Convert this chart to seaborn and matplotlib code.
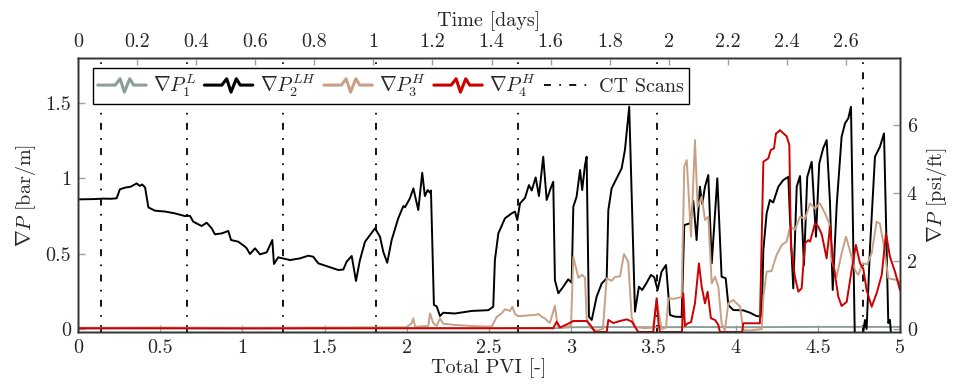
import numpy as np
import pandas as pd
import matplotlib
matplotlib.use("Agg")
import matplotlib.pyplot as plt
import seaborn as sns
from matplotlib.lines import Line2D
from matplotlib.legend_handler import HandlerLine2D
from matplotlib.ticker import FuncFormatter, MultipleLocator

# ---------------- data (Total PVI, gradient in bar/m) ----------------
p1_pvi = [0.0, 0.5, 1.0, 1.5, 2.0, 2.5, 2.9, 3.0, 3.3, 3.5, 3.8, 4.0, 4.3, 4.5, 4.8, 5.0]
p1_val = [0.003, 0.004, 0.004, 0.004, 0.005, 0.005, 0.005, 0.012, 0.013, 0.012, 0.013, 0.012, 0.013, 0.014, 0.014, 0.014]

p2_pvi = [0.0, 0.1, 0.15, 0.2, 0.235, 0.255, 0.29, 0.32, 0.357, 0.377, 0.39, 0.408, 0.428, 0.468,
          0.53, 0.59, 0.651, 0.681, 0.701, 0.752, 0.783, 0.813, 0.833, 0.874, 0.914, 0.931, 0.975,
          1.016, 1.026, 1.046, 1.077, 1.107, 1.148, 1.182, 1.192, 1.218, 1.29, 1.35, 1.401, 1.431,
          1.462, 1.533, 1.583, 1.614, 1.634, 1.665, 1.691, 1.715, 1.746, 1.776, 1.807, 1.817, 1.837,
          1.857, 1.881, 1.908, 1.948, 1.979, 1.989, 2.019, 2.04, 2.07, 2.094, 2.11, 2.127, 2.141,
          2.147, 2.165, 2.182, 2.202, 2.222, 2.293, 2.395, 2.496, 2.526, 2.536, 2.557, 2.597, 2.638,
          2.658, 2.672, 2.689, 2.719, 2.743, 2.76, 2.784, 2.804, 2.83, 2.851, 2.875, 2.891, 2.901,
          2.922, 2.952, 2.982, 3.003, 3.013, 3.033, 3.054, 3.067, 3.084, 3.094, 3.108, 3.125, 3.155,
          3.186, 3.216, 3.226, 3.246, 3.287, 3.307, 3.327, 3.353, 3.388, 3.412, 3.432, 3.459, 3.485,
          3.505, 3.526, 3.55, 3.577, 3.601, 3.631, 3.672, 3.688, 3.723, 3.743, 3.763, 3.783, 3.797,
          3.814, 3.834, 3.855, 3.889, 3.915, 3.94, 3.956, 3.986, 4.047, 4.088, 4.128, 4.159, 4.169,
          4.189, 4.209, 4.229, 4.26, 4.29, 4.321, 4.331, 4.351, 4.372, 4.392, 4.416, 4.436, 4.463,
          4.489, 4.509, 4.533, 4.554, 4.574, 4.591, 4.615, 4.645, 4.666, 4.686, 4.702, 4.726, 4.767,
          4.787, 4.797, 4.818, 4.848, 4.878, 4.903, 4.929, 4.939, 4.95]
p2_val = [0.861, 0.863, 0.866, 0.865, 0.868, 0.928, 0.94, 0.945, 0.967, 0.95, 0.96, 0.941, 0.808, 0.786,
          0.78, 0.768, 0.75, 0.752, 0.713, 0.684, 0.706, 0.669, 0.629, 0.635, 0.651, 0.591, 0.58,
          0.547, 0.536, 0.498, 0.536, 0.496, 0.509, 0.591, 0.432, 0.476, 0.458, 0.469, 0.487, 0.48,
          0.436, 0.41, 0.392, 0.395, 0.447, 0.485, 0.319, 0.458, 0.58, 0.624, 0.669, 0.65, 0.613,
          0.513, 0.44, 0.591, 0.735, 0.817, 0.808, 0.868, 0.934, 0.79, 1.038, 0.883, 0.923, 0.905,
          0.92, 0.16, 0.15, 0.086, 0.108, 0.103, 0.12, 0.125, 0.148, 0.458, 0.635, 0.735, 0.768,
          0.78, 0.724, 0.835, 0.87, 0.956, 0.92, 1.007, 0.883, 1.144, 0.857, 0.934, 0.978, 0.325,
          0.237, 0.281, 0.33, 0.307, 0.812, 0.879, 1.056, 0.923, 1.089, 1.144, 0.082, 0.06, 0.215,
          0.303, 0.337, 0.79, 0.934, 1.023, 1.067, 1.189, 1.476, 0.115, 0.281, 0.259, 0.307, 0.359,
          0.345, 0.259, 0.381, 0.425, 0.093, 0.082, 0.08, 0.69, 0.702, 0.85, 0.591, 0.945, 0.83,
          0.945, 1.023, 0.436, 1.001, 0.347, 0.337, 0.159, 0.126, 0.124, 0.108, 0.086, 0.082, 0.525,
          0.768, 0.857, 0.84, 0.945, 0.989, 1.011, 0.73, 0.27, 0.945, 1.016, 0.425, 1.01, 1.111,
          0.613, 1.1, 1.2, 1.255, 0.85, 0.259, 0.82, 1.277, 1.366, 1.4, 1.476, -0.1, -0.1,
          0.06, 0.0, 0.547, 1.144, 1.21, 1.299, 0.04, 0.06, -0.1]

p3_pvi = [0.0, 0.5, 1.0, 1.5, 2.0, 2.029, 2.04, 2.05, 2.131, 2.141, 2.161, 2.182, 2.202, 2.222, 2.293,
          2.395, 2.516, 2.547, 2.577, 2.597, 2.628, 2.642, 2.658, 2.678, 2.739, 2.79, 2.8, 2.82, 2.84,
          2.871, 2.901, 2.918, 2.952, 2.999, 3.013, 3.044, 3.066, 3.084, 3.094, 3.114, 3.157, 3.193,
          3.216, 3.246, 3.266, 3.297, 3.321, 3.347, 3.368, 3.388, 3.449, 3.498, 3.52, 3.55, 3.577,
          3.591, 3.621, 3.662, 3.672, 3.688, 3.703, 3.729, 3.753, 3.769, 3.794, 3.814, 3.834, 3.855,
          3.875, 3.895, 3.915, 3.935, 3.956, 3.986, 3.996, 4.027, 4.047, 4.088, 4.159, 4.169, 4.189,
          4.219, 4.249, 4.281, 4.311, 4.331, 4.361, 4.392, 4.422, 4.453, 4.483, 4.513, 4.544, 4.57,
          4.585, 4.615, 4.645, 4.672, 4.7, 4.726, 4.746, 4.773, 4.801, 4.828, 4.858, 4.878, 4.903,
          4.929, 4.959, 4.99, 5.0]
p3_val = [0.008, 0.01, 0.008, 0.01, 0.012, 0.038, 0.071, 0.015, 0.02, 0.104, 0.04, 0.02, 0.071, 0.035,
          0.027, 0.02, 0.015, 0.08, 0.104, 0.131, 0.12, 0.148, 0.1, 0.085, 0.09, 0.095, 0.1, 0.082,
          0.07, 0.04, 0.155, 0.015, 0.012, 0.02, 0.48, 0.34, 0.36, 0.34, 0.073, 0.01, -0.01, 0.0,
          0.337, 0.32, 0.345, 0.35, 0.498, 0.447, 0.082, 0.015, 0.005, 0.01, 0.193, 0.0, 0.01,
          0.204, 0.2, 0.21, 0.215, 1.078, 1.122, 0.613, 1.255, 0.812, 0.879, 0.724, 0.745, 0.303,
          0.347, 0.281, 0.038, -0.01, 0.171, 0.193, 0.181, 0.15, -0.007, -0.01, 0.0, 0.215, 0.381,
          0.385, 0.491, 0.558, 0.58, 0.679, 0.66, 0.746, 0.73, 0.835, 0.8, 0.835, 0.768, 0.702,
          0.458, 0.347, 0.503, 0.613, 0.503, 0.392, 0.36, 0.436, 0.43, 0.503, 0.713, 0.7, 0.547,
          0.337, 0.33, 0.325, 0.29]

p4_pvi = [0.0, 0.5, 1.0, 1.5, 2.0, 2.5, 2.891, 2.912, 2.932, 2.973, 3.013, 3.054, 3.094, 3.114, 3.145,
          3.216, 3.226, 3.256, 3.297, 3.338, 3.368, 3.388, 3.408, 3.499, 3.52, 3.531, 3.54, 3.674,
          3.682, 3.692, 3.709, 3.729, 3.753, 3.777, 3.794, 3.814, 3.83, 3.85, 3.875, 3.895, 3.905,
          4.04, 4.047, 4.148, 4.169, 4.199, 4.214, 4.234, 4.246, 4.26, 4.27, 4.29, 4.311, 4.327,
          4.337, 4.361, 4.382, 4.402, 4.422, 4.442, 4.453, 4.483, 4.503, 4.524, 4.554, 4.574, 4.594,
          4.625, 4.645, 4.676, 4.706, 4.732, 4.757, 4.777, 4.797, 4.828, 4.858, 4.889, 4.915, 4.939,
          4.97, 5.0]
p4_val = [0.005, 0.005, 0.004, 0.005, 0.005, 0.005, 0.006, 0.049, 0.01, 0.03, 0.053, 0.053, 0.053, 0.03,
          -0.02, -0.02, 0.06, 0.04, 0.053, 0.064, 0.05, 0.015, -0.02, -0.02, 0.204, 0.04, -0.02,
          -0.02, 0.237, 0.02, 0.038, 0.045, 0.171, 0.436, 0.281, 0.17, 0.248, 0.071, 0.06, 0.027,
          -0.02, -0.02, 0.038, 0.038, 1.111, 1.133, 1.189, 1.2, 1.299, 1.31, 1.321, 1.3, 1.28,
          1.222, 0.547, 0.347, 0.248, 0.27, 0.569, 0.59, 0.58, 0.702, 0.68, 0.63, 0.469, 0.679,
          0.436, 0.215, 0.153, 0.18, 0.392, 0.558, 0.436, 0.4, 0.259, 0.148, 0.237, 0.359, 0.635,
          0.48, 0.38, 0.259]

ct_scans = [0.14, 0.663, 1.247, 1.813, 2.676, 3.522, 4.775]

series_labels = [r'$\nabla P_1^L$', r'$\nabla P_2^{LH}$', r'$\nabla P_3^H$', r'$\nabla P_4^H$']
series_colors = ['#8c9e9a', '#000000', '#c8a085', '#cc0000']
bar_m_to_psi_ft = 4.4208
pvi_per_day = 1.797

# ---------------- style ----------------
FS = 14.5
sns.set_theme(style="ticks")
plt.rcParams.update({
    'font.family': 'serif',
    'font.serif': ['cmr10', 'DejaVu Serif'],
    'mathtext.fontset': 'cm',
    'axes.formatter.use_mathtext': True,
    'axes.unicode_minus': False,
    'font.size': FS,
    'lines.scale_dashes': False,
})

frames = []
for lab, xs, ys in zip(series_labels, [p1_pvi, p2_pvi, p3_pvi, p4_pvi], [p1_val, p2_val, p3_val, p4_val]):
    frames.append(pd.DataFrame({'PVI': xs, 'dP': ys, 'series': lab}))
df = pd.concat(frames, ignore_index=True)

fig = plt.figure(figsize=(9.57, 3.88), dpi=100)
ax = fig.add_axes([0.0815, 0.1443, 0.8589, 0.7062])

for lab, col in zip(series_labels, series_colors):
    sub = df[df['series'] == lab]
    sns.lineplot(data=sub, x='PVI', y='dP', ax=ax, color=col, lw=1.4, sort=False,
                 estimator=None, label=lab, legend=False)

for xv in ct_scans:
    ax.axvline(xv, color='black', lw=1.3, linestyle=(0, (5, 6, 1.2, 6)), zorder=1)

ax.set_xlim(0, 5)
ax.set_ylim(-0.02, 1.8)
ax.set_xlabel('Total PVI [-]', fontsize=FS, labelpad=1)
ax.set_ylabel(r'$\nabla P$ [bar/m]', fontsize=FS, labelpad=5)
ax.xaxis.set_major_locator(MultipleLocator(0.5))
ax.yaxis.set_major_locator(MultipleLocator(0.5))
fmt = FuncFormatter(lambda v, p: f'{v:g}')
ax.xaxis.set_major_formatter(fmt)
ax.yaxis.set_major_formatter(fmt)

ax2 = ax.twinx()
ax2.set_ylim(-0.02 * bar_m_to_psi_ft, 1.8 * bar_m_to_psi_ft)
ax2.yaxis.set_major_locator(MultipleLocator(2))
ax2.yaxis.set_major_formatter(fmt)
ax2.set_ylabel(r'$\nabla P$ [psi/ft]', fontsize=FS, labelpad=6)

ax3 = ax.twiny()
ax3.set_xlim(0, 5 / pvi_per_day)
ax3.xaxis.set_major_locator(MultipleLocator(0.2))
ax3.xaxis.set_major_formatter(fmt)
ax3.set_xlabel('Time [days]', fontsize=FS, labelpad=5)

for a in (ax, ax2, ax3):
    a.tick_params(direction='in', length=5, width=1, color='#a0a0a0', labelsize=FS, pad=5)
    for s in a.spines.values():
        s.set_color('#333333')
        s.set_linewidth(1.0)


class ZigHandler(HandlerLine2D):
    def create_artists(self, legend, orig_handle, xdescent, ydescent, width, height, fontsize, trans):
        fx = np.array([0.0, 0.36, 0.46, 0.55, 0.66, 0.74, 1.0])
        fy = np.array([0.5, 0.5, 0.95, 0.0, 0.95, 0.5, 0.5])
        line = Line2D(fx * width - xdescent, fy * height - ydescent)
        self.update_prop(line, orig_handle, legend)
        line.set_transform(trans)
        return [line]


handles = [Line2D([], [], color=c, lw=2.2) for c in series_colors]
ct_handle = Line2D([], [], color='black', lw=1.3, linestyle=(0, (5, 6, 1.2, 6)))
leg = ax.legend(handles + [ct_handle], series_labels + ['CT Scans'],
                handler_map={h: ZigHandler() for h in handles},
                loc='upper left', bbox_to_anchor=(0.018, 0.965), ncol=5,
                frameon=True, fancybox=False, framealpha=1, edgecolor='black',
                fontsize=FS, handlelength=2.4, handletextpad=0.35, columnspacing=0.4,
                borderpad=0.25, borderaxespad=0)
leg.get_frame().set_linewidth(1.0)
leg.set_zorder(10)

fig.savefig('out.png', dpi=100)
